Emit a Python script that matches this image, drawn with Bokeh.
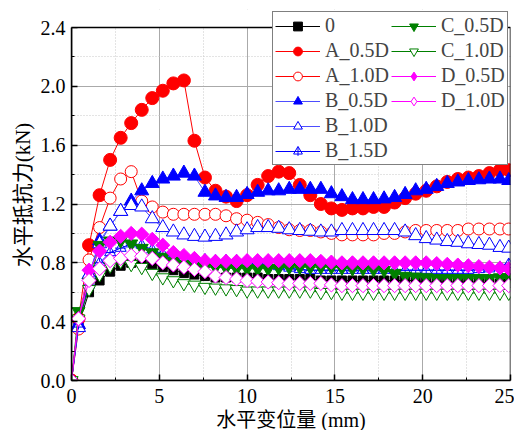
import numpy as np
from bokeh.plotting import figure
from bokeh.models import (Range1d, FixedTicker, Legend, LegendItem, NumeralTickFormatter,
                          BoxAnnotation)
from bokeh.embed import file_html
from bokeh.resources import INLINE

# ---- data ----
x_mm = [0, 0.4, 1.0, 1.6, 2.2, 2.8, 3.4, 4.0, 4.6, 5.2, 5.8, 6.4, 7.0, 7.6, 8.2, 8.8, 9.4,
        10.0, 10.6, 11.2, 11.8, 12.4, 13.0, 13.6, 14.2, 14.8, 15.4, 16.0, 16.6, 17.2, 17.8,
        18.4, 19.0, 19.6, 20.2, 20.8, 21.4, 22.0, 22.6, 23.2, 23.8, 24.4, 24.9]

s_0 = [0, 0.38, 0.60, 0.68, 0.74, 0.78, 0.80, 0.80, 0.79, 0.77,
       0.75, 0.73, 0.72, 0.71, 0.70, 0.70, 0.70, 0.70, 0.70, 0.69,
       0.69, 0.69, 0.69, 0.69, 0.68, 0.68, 0.68, 0.68, 0.68, 0.68,
       0.68, 0.68, 0.68, 0.68, 0.67, 0.67, 0.67, 0.67, 0.67, 0.67,
       0.66, 0.66, 0.66]
s_A05 = [0, 0.42, 0.92, 1.26, 1.50, 1.65, 1.75, 1.84, 1.92, 1.97,
         2.02, 2.04, 1.63, 1.38, 1.29, 1.25, 1.22, 1.26, 1.33, 1.39,
         1.42, 1.41, 1.33, 1.26, 1.20, 1.17, 1.16, 1.17, 1.17, 1.18,
         1.18, 1.21, 1.24, 1.27, 1.29, 1.32, 1.35, 1.37, 1.38, 1.39,
         1.41, 1.43, 1.43]
s_A10 = [0, 0.35, 0.82, 1.04, 1.24, 1.37, 1.42, 1.22, 1.18, 1.145,
         1.13, 1.13, 1.13, 1.13, 1.13, 1.12, 1.10, 1.09, 1.075, 1.06,
         1.04, 1.025, 1.02, 1.02, 1.01, 1.00, 0.99, 0.99, 0.99, 0.99,
         1.00, 1.00, 1.01, 1.02, 1.02, 1.02, 1.02, 1.02, 1.03, 1.03,
         1.03, 1.03, 1.03]
s_B05 = [0, 0.38, 0.72, 0.95, 1.05, 1.15, 1.22, 1.29, 1.34, 1.37,
         1.39, 1.41, 1.39, 1.28, 1.255, 1.245, 1.245, 1.265, 1.28, 1.29,
         1.29, 1.30, 1.30, 1.30, 1.30, 1.27, 1.25, 1.23, 1.23, 1.23,
         1.235, 1.245, 1.265, 1.29, 1.30, 1.32, 1.34, 1.35, 1.36, 1.365,
         1.37, 1.37, 1.36]
s_B10 = [0, 0.36, 0.72, 0.93, 1.05, 1.15, 1.19, 1.18, 1.10, 1.04,
         1.01, 0.99, 0.98, 0.975, 0.98, 0.99, 1.01, 1.025, 1.04, 1.04,
         1.035, 1.025, 1.02, 1.015, 1.01, 1.01, 1.02, 1.02, 1.02, 1.02,
         1.02, 1.02, 1.01, 0.985, 0.965, 0.955, 0.945, 0.94, 0.93, 0.925,
         0.92, 0.905, 0.90]
s_B15 = [0, 0.385, 0.65, 0.80, 0.87, 0.90, 0.93, 0.92, 0.89, 0.86,
         0.84, 0.83, 0.82, 0.82, 0.815, 0.815, 0.815, 0.815, 0.81, 0.79,
         0.775, 0.765, 0.755, 0.75, 0.75, 0.75, 0.75, 0.75, 0.75, 0.75,
         0.75, 0.75, 0.75, 0.75, 0.75, 0.75, 0.75, 0.75, 0.75, 0.755,
         0.76, 0.77, 0.79]
s_C05 = [0, 0.47, 0.67, 0.92, 0.95, 0.95, 0.93, 0.90, 0.87, 0.84,
         0.81, 0.79, 0.78, 0.77, 0.77, 0.765, 0.76, 0.76, 0.76, 0.76,
         0.765, 0.77, 0.77, 0.77, 0.77, 0.77, 0.765, 0.76, 0.76, 0.755,
         0.75, 0.73, 0.71, 0.705, 0.70, 0.695, 0.695, 0.695, 0.695, 0.695,
         0.695, 0.70, 0.70]
s_C10 = [0, 0.42, 0.62, 0.72, 0.78, 0.81, 0.79, 0.77, 0.73, 0.70,
         0.68, 0.66, 0.65, 0.635, 0.63, 0.625, 0.62, 0.61, 0.61, 0.61,
         0.61, 0.61, 0.61, 0.61, 0.60, 0.60, 0.595, 0.595, 0.595, 0.595,
         0.595, 0.595, 0.595, 0.595, 0.595, 0.595, 0.595, 0.595, 0.595, 0.595,
         0.595, 0.595, 0.595]
s_D05 = [0, 0.42, 0.75, 0.88, 0.94, 0.98, 1.00, 0.995, 0.96, 0.92,
         0.87, 0.85, 0.83, 0.815, 0.81, 0.81, 0.81, 0.815, 0.815, 0.815,
         0.815, 0.815, 0.815, 0.815, 0.81, 0.805, 0.80, 0.80, 0.80, 0.80,
         0.80, 0.80, 0.80, 0.80, 0.80, 0.795, 0.79, 0.785, 0.78, 0.775,
         0.77, 0.765, 0.76]
s_D10 = [0, 0.42, 0.68, 0.76, 0.815, 0.83, 0.85, 0.845, 0.83, 0.80,
         0.785, 0.77, 0.755, 0.74, 0.71, 0.70, 0.69, 0.68, 0.675, 0.67,
         0.665, 0.66, 0.66, 0.66, 0.66, 0.65, 0.645, 0.645, 0.645, 0.645,
         0.645, 0.645, 0.645, 0.645, 0.645, 0.645, 0.645, 0.645, 0.645, 0.645,
         0.645, 0.645, 0.645]

labels = ["0", "A_0.5D", "A_1.0D", "B_0.5D", "B_1.0D", "B_1.5D",
          "C_0.5D", "C_1.0D", "D_0.5D", "D_1.0D"]
values = [s_0, s_A05, s_A10, s_B05, s_B10, s_B15, s_C05, s_C10, s_D05, s_D10]

x_ticks = [0, 5, 10, 15, 20, 25]
x_minor = [2.5, 7.5, 12.5, 17.5, 22.5]
y_ticks = [0.0, 0.4, 0.8, 1.2, 1.6, 2.0, 2.4]
y_minor = [0.2, 0.6, 1.0, 1.4, 1.8, 2.2]
X_MAX = 25
Y_MAX = 2.4

# ---- styles ----
styles = [
    dict(line="#000000", marker="square", size=9, fill="#000000", edge="#000000", angle=0),
    dict(line="#ff0000", marker="circle", size=13, fill="#ff0000", edge="#ff0000", angle=0),
    dict(line="#ff0000", marker="circle", size=12, fill="white", edge="#ff0000", angle=0),
    dict(line="#4d4dff", marker="triangle", size=14, fill="#0000ff", edge="#0000ff", angle=0),
    dict(line="#4d4dff", marker="triangle", size=14, fill="white", edge="#0000ff", angle=0),
    dict(line="#0000ff", marker="triangle", size=11, fill=None, edge="#0000ff", angle=0),
    dict(line="#008000", marker="inverted_triangle", size=13, fill="#008000", edge="#008000", angle=0),
    dict(line="#008000", marker="inverted_triangle", size=13, fill="white", edge="#008000", angle=0),
    dict(line="#ff00ff", marker="square", size=10, fill="#ff00ff", edge="#ff00ff", angle=np.pi / 4),
    dict(line="#ff00ff", marker="square", size=10, fill="white", edge="#ff00ff", angle=np.pi / 4),
]

SERIF = "Liberation Serif"
MIXED = "Liberation Serif, Noto Sans CJK SC"

# frame: 353 px for 0..2.4, plus 18 px of head-room (legend sticks above the data box)
FRAME_H = 371
y_top = Y_MAX * FRAME_H / 353.0

p = figure(frame_width=439, frame_height=FRAME_H,
           min_border_left=71, min_border_right=4, min_border_top=9, min_border_bottom=50,
           x_range=Range1d(0, X_MAX), y_range=Range1d(0, y_top),
           output_backend="svg", toolbar_location=None)
p.background_fill_color = "white"
p.border_fill_color = "white"
p.outline_line_color = None

items = []
for lab, ys, st in zip(labels, values, styles):
    lr = p.line(x_mm, ys, line_color=st["line"], line_width=1)
    sr = p.scatter(x_mm, ys, marker=st["marker"], size=st["size"], angle=st["angle"],
                   fill_color=st["fill"], line_color=st["edge"], line_width=1)
    rends = [lr, sr]
    if lab == "B_1.5D":
        cr = p.scatter(x_mm, ys, marker="cross", size=11, line_color=st["edge"], line_width=1)
        rends.append(cr)
    if st["angle"] != 0:
        # legend-only diamond symbol (legend glyphs ignore marker rotation)
        dr = p.scatter([np.nan], [np.nan], marker="diamond", size=14,
                       fill_color=st["fill"], line_color=st["edge"], line_width=1)
        rends = [lr, dr]
    items.append(LegendItem(label=lab, renderers=rends))

# axes
for ax in (p.xaxis[0], p.yaxis[0]):
    ax.axis_line_color = "black"
    ax.axis_line_width = 1.5
    ax.major_tick_in = 6
    ax.major_tick_out = 0
    ax.minor_tick_in = 3
    ax.minor_tick_out = 0
    ax.major_tick_line_width = 1.5
    ax.minor_tick_line_width = 1
    ax.major_label_text_font = SERIF
    ax.major_label_text_font_size = "20px"
    ax.major_label_text_color = "black"
    ax.axis_label_text_font_style = "normal"
    ax.axis_label_text_color = "black"
    ax.axis_label_text_font = MIXED

p.xaxis.ticker = FixedTicker(ticks=x_ticks, minor_ticks=x_minor)
p.yaxis.ticker = FixedTicker(ticks=y_ticks, minor_ticks=y_minor)
p.yaxis.formatter = NumeralTickFormatter(format="0.0")
p.yaxis.bounds = (0, Y_MAX)
p.xaxis.major_label_standoff = 8
p.yaxis.major_label_standoff = 6
p.xaxis.axis_label = "水平变位量 (mm)"
p.xaxis.axis_label_text_font_size = "20px"
p.xaxis.axis_label_standoff = 3
p.yaxis.axis_label = "水平抵抗力(kN)"
p.yaxis.axis_label_text_font_size = "21px"
p.yaxis.axis_label_standoff = 3

# grids
for g in (p.xgrid[0], p.ygrid[0]):
    g.grid_line_color = "#aaaaaa"
    g.grid_line_width = 1
    g.minor_grid_line_color = "#c8c8c8"
    g.minor_grid_line_dash = "1 2"
    g.minor_grid_line_width = 1

# white head-room above the data box, then the data-box border
p.add_layout(BoxAnnotation(bottom=Y_MAX, fill_color="white", fill_alpha=1.0, line_color=None))
p.add_layout(BoxAnnotation(left=0, right=X_MAX, bottom=0, top=Y_MAX, fill_alpha=0,
                           line_color="black", line_width=1.5, line_alpha=1.0))

legend = Legend(items=items, location=(201, 215), nrows=6,
                label_text_font=SERIF, label_text_font_size="20px",
                glyph_width=45, glyph_height=22, label_height=22, label_standoff=5,
                spacing=2, padding=2, margin=0,
                border_line_color="black", border_line_width=1,
                background_fill_color="white", background_fill_alpha=1.0)
p.add_layout(legend)

open("out.html", "w").write(file_html(p, INLINE))
